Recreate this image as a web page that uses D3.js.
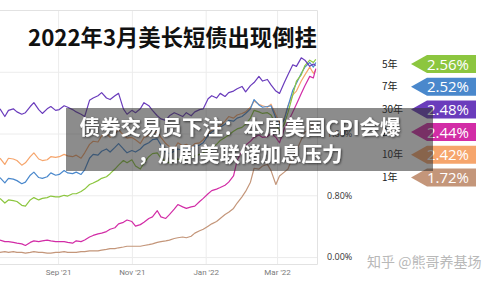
<!DOCTYPE html>
<html>
<head>
<meta charset="utf-8">
<script src="https://cdn.jsdelivr.net/npm/d3@7"></script>
<style>
  body { margin: 0; background: #fff; }
  svg { display: block; }
</style>
</head>
<body>
<svg id="chart" width="500" height="281"></svg>
<script>
// dates of the samples (roughly twice a week)
const dates = ["2021-07-15","2021-07-19","2021-07-22","2021-07-26","2021-07-29","2021-08-02","2021-08-05","2021-08-09","2021-08-12","2021-08-16",
  "2021-08-19","2021-08-23","2021-08-26","2021-08-30","2021-09-02","2021-09-06","2021-09-09","2021-09-13","2021-09-16","2021-09-20",
  "2021-09-23","2021-09-27","2021-09-30","2021-10-04","2021-10-07","2021-10-11","2021-10-14","2021-10-18","2021-10-21","2021-10-25",
  "2021-10-28","2021-11-01","2021-11-04","2021-11-08","2021-11-11","2021-11-15","2021-11-18","2021-11-22","2021-11-25","2021-11-29",
  "2021-12-02","2021-12-06","2021-12-09","2021-12-13","2021-12-16","2021-12-20","2021-12-23","2021-12-27","2021-12-30","2022-01-03",
  "2022-01-06","2022-01-10","2022-01-13","2022-01-17","2022-01-20","2022-01-24","2022-01-27","2022-01-31","2022-02-03","2022-02-07",
  "2022-02-10","2022-02-14","2022-02-17","2022-02-21","2022-02-24","2022-02-28","2022-03-03","2022-03-07","2022-03-10","2022-03-14",
  "2022-03-17","2022-03-21","2022-03-24","2022-03-28","2022-03-31","2022-04-02"];

// yields in %
const y30 = [1.92,1.82,1.90,1.92,1.88,1.85,1.87,1.95,2.00,1.91,
  1.86,1.92,1.95,1.90,1.91,1.96,1.94,1.91,1.88,1.85,
  1.82,2.03,2.06,2.09,2.13,2.06,2.04,2.09,2.12,1.92,
  1.85,1.90,1.87,1.92,2.00,1.96,1.90,1.83,1.79,1.77,
  1.83,1.87,1.85,1.82,1.87,1.83,1.88,1.91,1.92,2.05,
  2.09,2.06,2.12,2.08,2.13,2.15,2.18,2.21,2.14,2.22,
  2.26,2.34,2.28,2.30,2.23,2.15,2.12,2.26,2.36,2.49,
  2.47,2.58,2.55,2.47,2.50,2.48];
const y10 = [1.28,1.20,1.28,1.27,1.25,1.19,1.22,1.30,1.35,1.27,
  1.25,1.26,1.30,1.29,1.30,1.33,1.31,1.30,1.32,1.28,
  1.35,1.46,1.50,1.49,1.57,1.60,1.55,1.60,1.65,1.58,
  1.54,1.55,1.52,1.47,1.55,1.58,1.60,1.62,1.55,1.47,
  1.43,1.40,1.48,1.44,1.46,1.42,1.47,1.48,1.52,1.60,
  1.64,1.68,1.70,1.76,1.82,1.80,1.84,1.86,1.88,1.94,
  2.02,1.98,1.96,1.94,1.98,1.84,1.74,1.80,1.96,2.10,
  2.15,2.28,2.36,2.46,2.38,2.42];
const y7 = [1.03,0.96,1.02,1.01,0.99,0.95,0.97,1.06,1.10,1.03,
  1.02,1.04,1.09,1.06,1.07,1.12,1.09,1.08,1.10,1.07,
  1.13,1.28,1.33,1.32,1.37,1.40,1.36,1.42,1.47,1.40,
  1.35,1.38,1.36,1.40,1.45,1.48,1.52,1.53,1.45,1.36,
  1.34,1.37,1.40,1.38,1.41,1.40,1.44,1.45,1.48,1.58,
  1.62,1.66,1.68,1.72,1.77,1.76,1.80,1.82,1.86,1.92,
  2.04,1.97,1.94,1.95,1.96,1.80,1.70,1.78,1.95,2.16,
  2.25,2.38,2.46,2.52,2.46,2.52];
const y5 = [0.76,0.70,0.74,0.73,0.72,0.67,0.66,0.74,0.77,0.74,
  0.76,0.77,0.79,0.78,0.78,0.80,0.79,0.82,0.82,0.85,
  0.88,0.94,0.96,0.99,1.02,1.04,1.08,1.14,1.19,1.25,
  1.22,1.26,1.18,1.14,1.22,1.30,1.34,1.35,1.28,1.24,
  1.22,1.26,1.27,1.25,1.28,1.29,1.31,1.33,1.35,1.40,
  1.42,1.46,1.51,1.55,1.58,1.63,1.66,1.68,1.72,1.80,
  1.90,1.88,1.86,1.87,1.84,1.72,1.64,1.72,1.87,2.10,
  2.28,2.36,2.48,2.55,2.52,2.56];
const y2 = [0.22,0.20,0.20,0.19,0.18,0.17,0.15,0.19,0.21,0.20,
  0.21,0.22,0.21,0.20,0.20,0.20,0.19,0.18,0.21,0.20,
  0.22,0.26,0.28,0.30,0.31,0.33,0.36,0.38,0.43,0.45,
  0.48,0.46,0.40,0.42,0.45,0.50,0.52,0.60,0.52,0.50,
  0.55,0.62,0.68,0.65,0.63,0.65,0.66,0.72,0.76,0.82,
  0.86,0.88,0.90,0.93,0.97,1.05,1.25,1.38,1.45,1.50,
  1.55,1.58,1.55,1.56,1.60,1.55,1.48,1.66,1.75,1.88,
  1.98,2.12,2.22,2.34,2.32,2.44];
const y1 = [0.06,0.07,0.06,0.07,0.06,0.06,0.05,0.06,0.07,0.06,
  0.06,0.05,0.05,0.06,0.06,0.07,0.06,0.06,0.06,0.07,
  0.07,0.08,0.08,0.08,0.09,0.10,0.11,0.11,0.12,0.13,
  0.14,0.14,0.14,0.14,0.15,0.16,0.17,0.19,0.20,0.21,
  0.22,0.24,0.25,0.26,0.25,0.27,0.31,0.34,0.36,0.40,
  0.43,0.46,0.50,0.55,0.58,0.63,0.70,0.78,0.85,0.97,
  1.15,1.14,1.18,1.20,1.12,0.94,1.05,1.10,1.14,1.30,
  1.38,1.52,1.62,1.66,1.74,1.72];

// legend order (top to bottom) and colours
const seriesNames = ["5年", "7年", "30年", "2年", "10年", "1年"];
const seriesValues = [y5, y7, y30, y2, y10, y1];
const seriesColors = ["#8cc63f", "#4a88cc", "#6a3cbc", "#d22ca6", "#f6a56c", "#c4967a"];
const drawOrder = [5, 4, 1, 0, 3, 2];

const xTicks = ["2021-09-01", "2021-11-01", "2022-01-01", "2022-03-01"];
const yGrid = [0, 0.8, 1.6, 2.4];
const yLabels = [0, 0.8, 1.6];

const parse = d3.timeParse("%Y-%m-%d");
const svg = d3.select("#chart");

const x = d3.scaleTime()
  .domain([parse("2021-07-15"), parse("2022-04-03")])
  .range([0, 317]);
const y = d3.scaleLinear()
  .domain([-0.09, 3.2])
  .range([264, 10]);

// grid lines
svg.append("g")
  .attr("transform", "translate(0,264)")
  .call(d3.axisBottom(x).tickValues(xTicks.map(parse)).tickSize(-254).tickFormat(""))
  .call(g => g.select(".domain").remove())
  .call(g => g.selectAll("line").attr("stroke", "#ececec"));
svg.append("g")
  .call(d3.axisLeft(y).tickValues(yGrid).tickSize(-317).tickFormat(""))
  .call(g => g.select(".domain").remove())
  .call(g => g.selectAll("line").attr("stroke", "#ececec"));

// frame
svg.append("path")
  .attr("d", "M0,10.5H317.5V264.5H0")
  .attr("fill", "none")
  .attr("stroke", "#e2e2e2");

// x labels
svg.append("g")
  .attr("transform", "translate(0,264)")
  .call(d3.axisBottom(x).tickValues(xTicks.map(parse)).tickSize(0).tickPadding(5)
    .tickFormat(d3.timeFormat("%b '%y")))
  .call(g => g.select(".domain").remove())
  .call(g => g.selectAll("text")
    .attr("fill", "#7a7a7a")
    .attr("font-family", "Roboto, sans-serif")
    .attr("font-size", 8));

// y labels
svg.append("g")
  .attr("transform", "translate(317,0)")
  .call(d3.axisRight(y).tickValues(yLabels).tickSize(0).tickPadding(10)
    .tickFormat(d => d3.format(".2f")(d) + "%"))
  .call(g => g.select(".domain").remove())
  .call(g => g.selectAll("text")
    .attr("fill", "#333")
    .attr("font-family", "'Open Sans', sans-serif")
    .attr("font-size", 9));

// lines
const line = d3.line()
  .x((d, i) => x(parse(dates[i])))
  .y(d => y(d));
drawOrder.forEach(k => {
  svg.append("path")
    .datum(seriesValues[k])
    .attr("fill", "none")
    .attr("stroke", seriesColors[k])
    .attr("stroke-width", 1.2)
    .attr("stroke-linejoin", "round")
    .attr("d", line);
});

// title
svg.append("text")
  .attr("x", 28)
  .attr("y", 46)
  .attr("font-family", "'Noto Sans CJK SC', sans-serif")
  .attr("font-weight", "bold")
  .attr("font-size", 22.3)
  .attr("fill", "#111")
  .text("2022年3月美长短债出现倒挂");

// legend tags
const tagY = d3.scalePoint()
  .domain(seriesNames)
  .range([64, 177.5]);
seriesNames.forEach((name, k) => {
  const cy = tagY(name);
  svg.append("text")
    .attr("x", 382)
    .attr("y", cy + 3.5)
    .attr("font-family", "'Noto Sans CJK SC', sans-serif")
    .attr("font-size", 10)
    .attr("fill", "#222")
    .text(name);
  svg.append("path")
    .attr("d", `M411,${cy} L427,${cy - 9} H476 V${cy + 9} H427 Z`)
    .attr("fill", seriesColors[k]);
  const vals = seriesValues[k];
  svg.append("text")
    .attr("x", 448)
    .attr("y", cy + 5.5)
    .attr("text-anchor", "middle")
    .attr("font-family", "'Open Sans', sans-serif")
    .attr("font-size", 15)
    .attr("fill", "#fff")
    .text(d3.format(".2f")(vals[vals.length - 1]) + "%");
});

// headline banner over the chart
const defs = svg.append("defs");
defs.append("filter")
  .attr("id", "shadow")
  .append("feDropShadow")
  .attr("dx", 1).attr("dy", 1)
  .attr("stdDeviation", 1)
  .attr("flood-color", "#000")
  .attr("flood-opacity", 0.6);

svg.append("rect")
  .attr("x", 66).attr("y", 108)
  .attr("width", 367).attr("height", 63)
  .attr("fill", "rgba(50,50,50,0.56)");

const banner = svg.append("g")
  .attr("font-family", "'Noto Sans CJK SC', sans-serif")
  .attr("font-weight", "bold")
  .attr("font-size", 20.5)
  .attr("fill", "#fff")
  .attr("text-anchor", "middle")
  .attr("filter", "url(#shadow)");
banner.append("text").attr("x", 240).attr("y", 135).text("债券交易员下注：本周美国CPI会爆");
banner.append("text").attr("x", 240).attr("y", 162).text("，加剧美联储加息压力");

// watermark
svg.append("text")
  .attr("x", 367)
  .attr("y", 267)
  .attr("font-family", "'Noto Sans CJK SC', sans-serif")
  .attr("font-size", 14)
  .attr("fill", "#b8b8b8")
  .text("知乎 @熊哥养基场");
</script>
</body>
</html>
